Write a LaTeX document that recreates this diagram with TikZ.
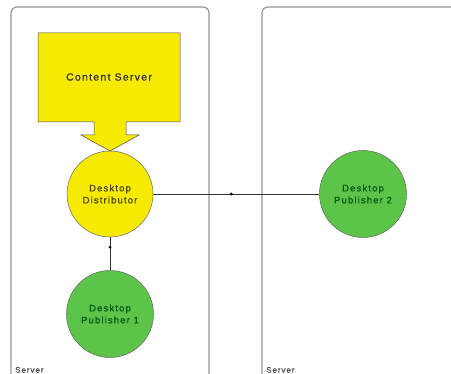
\documentclass[tikz,border=0pt]{standalone}
\usepackage{fontspec}
\setmainfont{Liberation Sans}
\newfontfamily\spaced[LetterSpace=10]{Liberation Sans}
\newfontfamily\spacedb[LetterSpace=12,FakeBold=0.6]{Liberation Sans}
\usetikzlibrary{shapes.arrows}
\definecolor{yel}{RGB}{246,234,0}
\definecolor{grn}{RGB}{92,196,72}
\definecolor{dgreen}{RGB}{0,90,20}
\definecolor{panelgray}{RGB}{150,150,150}
\begin{document}
\begin{tikzpicture}[x=1pt,y=-1pt,
  panel/.style={draw=panelgray,line width=1.2pt,rounded corners=6pt},
  yelbox/.style={draw=black!70,fill=yel,line width=0.5pt},
  pubcircle/.style={circle,draw=black!60,fill=grn,line width=0.5pt,minimum size=87pt,inner sep=0pt,align=center,font=\spacedb\fontsize{9.5}{12}\selectfont,text=dgreen},
  distcircle/.style={circle,draw=black!60,fill=yel,line width=0.5pt,minimum size=86pt,inner sep=0pt,align=center,font=\spacedb\fontsize{9.5}{12}\selectfont,text=black!70!yel},
  link/.style={draw=black!80,line width=0.7pt},
  dot/.style={circle,fill=black,inner sep=0pt,minimum size=3.2pt},
  lbl/.style={font=\spacedb\fontsize{8}{9}\selectfont,text=black!70,anchor=south west,inner sep=0pt}
]
\useasboundingbox (0,0) rectangle (451,374);
\fill[white] (0,0) rectangle (451,374);
% panels
\draw[panel] (11,380) -- (11,7) -- (209,7) -- (209,380);
\draw[panel] (262,380) -- (262,7) -- (460,7);
\node[lbl] (lblA) at (15,373) {Server};
\node[lbl] (lblB) at (266,373) {Server};
% content server with arrow
\draw[yelbox] (38,33) -- (180,33) -- (180,122) -- (126,122) -- (126,135) -- (139,135)
  -- (110,151) -- (81,135) -- (94,135) -- (94,122) -- (38,122) -- cycle;
\node[font=\spacedb\fontsize{10.5}{12}\selectfont,text=black!80] (cs) at (109,77) {Content Server};
% circles
\node[distcircle] (dist) at (110,194) {Desktop\\Distributor};
\node[pubcircle] (pub1) at (110,314) {Desktop\\Publisher 1};
\node[pubcircle] (pub2) at (363,194) {Desktop\\Publisher 2};
% connectors
\draw[link] (dist) -- (pub1) node[dot,pos=0.3] (d1) {};
\draw[link] (dist) -- (pub2) node[dot,pos=0.47] (d2) {};
\end{tikzpicture}
\end{document}
